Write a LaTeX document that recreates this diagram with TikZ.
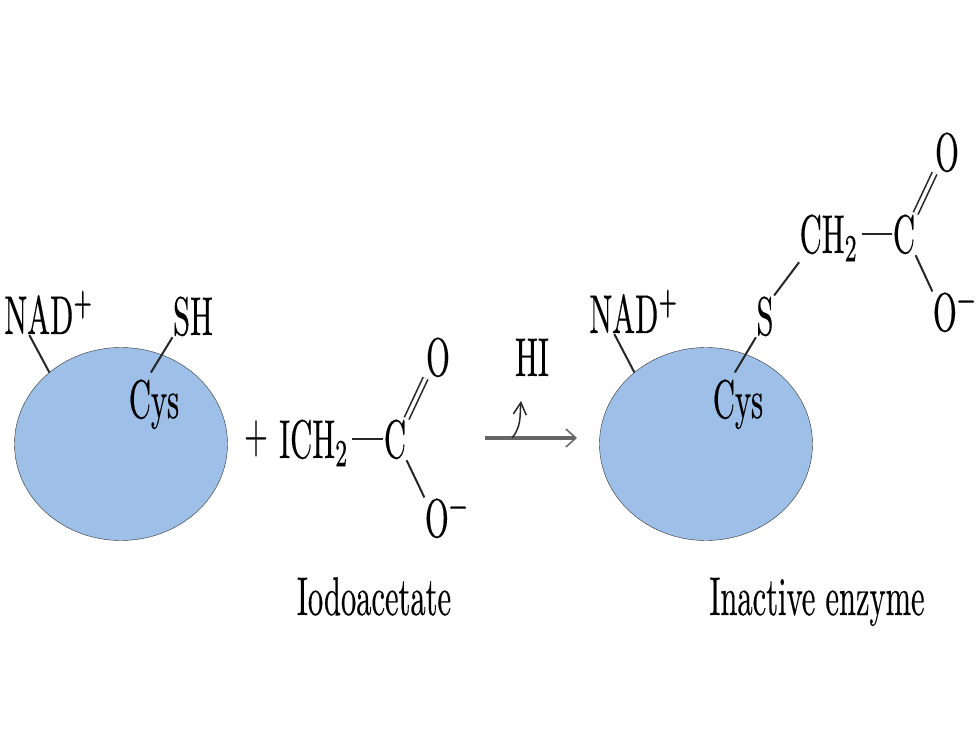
\documentclass[tikz,border=0pt]{standalone}
\usepackage{amssymb}
\usepackage{fontspec}
\usetikzlibrary{calc,shapes.geometric,arrows.meta}
\newfontfamily\labfont{Latin Modern Roman}[FakeBold=0.5]
\definecolor{enzblue}{HTML}{9DBFE8}
\tikzset{
	lab/.style={inner sep=0pt,anchor=base,transform shape,xscale=3.05,yscale=5.45,font=\labfont\fontsize{10}{12}\selectfont},
	enz/.style={draw=black!80,fill=enzblue,ellipse,inner sep=0pt,minimum width=213pt,minimum height=193pt,thin},
	bond/.style={draw=black!85,line width=2pt},
	dbond/.style={draw=black!85,double=white,double distance=3.5pt,line width=1.6pt}
}
\begin{document}
\begin{tikzpicture}[x=1pt,y=-1pt]
	\useasboundingbox (0,0) rectangle (980,735);

	% left enzyme
	\node[enz] (enzl) at (121,444) {};
	\node[lab] (nadl) at (49,334) {NAD\textsuperscript{+}};
	\node[lab] (shl) at (193,335) {SH};
	\node[lab] (cysl) at (154,418) {Cys};
	\path[bond] (nadl.213) to (enzl.135);
	\path[bond,shorten >=7pt] (shl.south west) to (cysl.115);

	% iodoacetate
	\node[lab] (plus) at (256,452) {+};
	\node[lab] (ich) at (314,458) {ICH\textsubscript{2}};
	\node[lab] (cl) at (395,458) {C};
	\node[lab] (ol) at (438,376) {O};
	\node[lab] (om) at (447,537) {O\textsuperscript{−}};
	\node[lab] (iodo) at (374,615) {Iodoacetate};
	\path[bond,shorten <=3pt] (ich.east |- cl.west) to (cl.west);
	\path[dbond] (cl.north east) to (ol.south west);
	\path[bond] (cl.south east) to (om.north west);

	% reaction arrow
	\node[lab] (hi) at (532,376) {HI};
	\coordinate (arra) at (485,438);
	\coordinate (arrb) at (577,438);
	\coordinate (hia) at (512,438);
	\coordinate (hib) at (521,401);
	\path[draw=black!60,line width=3.5pt,shorten >=2pt] (arra) to (arrb);
	\path[-{Straight Barb[length=10pt,width=18pt]},draw=black!60,line width=1.5pt] (hia) to (arrb);
	\path[-{Straight Barb[length=12pt,width=13pt]},draw=black!85,line width=1.5pt] (hia) to[in=265,out=50] (hib);

	% right enzyme
	\node[enz] (enzr) at (706,444) {};
	\node[lab] (nadr) at (634,333) {NAD\textsuperscript{+}};
	\node[lab] (cysr) at (738,418) {Cys};
	\node[lab] (sr) at (765,335) {S};
	\node[lab] (chr) at (829,253) {CH\textsubscript{2}};
	\node[lab] (cr) at (904,253) {C};
	\node[lab] (otop) at (947,171) {O};
	\node[lab] (omr) at (955,331) {O\textsuperscript{−}};
	\node[lab] (inact) at (817,615) {Inactive enzyme};
	\path[bond] (nadr.213) to (enzr.135);
	\path[bond,shorten >=7pt] (sr.south west) to (cysr.115);
	\path[bond] (sr.north east) to (chr.south west);
	\path[bond,shorten <=3pt] (chr.east |- cr.west) to (cr.west);
	\path[dbond] (cr.north east) to (otop.south west);
	\path[bond] (cr.south east) to (omr.north west);

\end{tikzpicture}
\end{document}
